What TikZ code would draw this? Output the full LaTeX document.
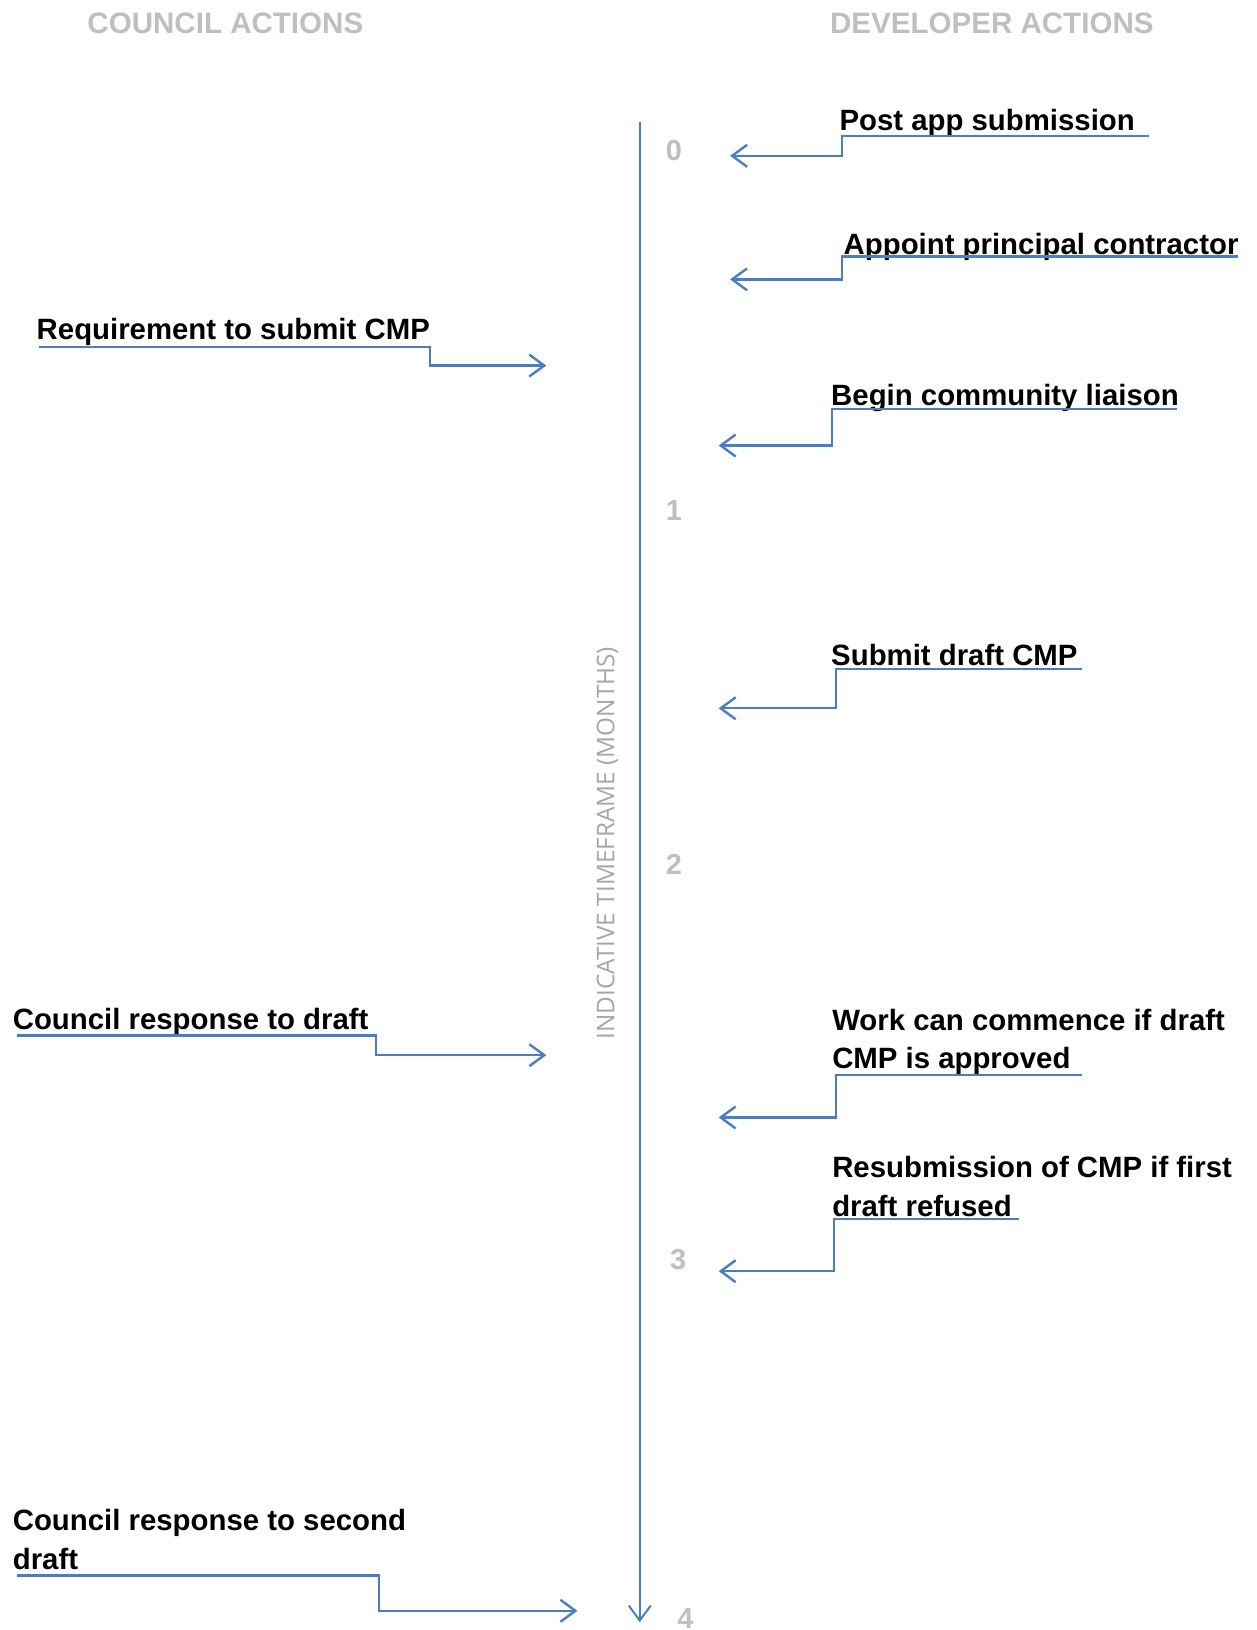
\documentclass[tikz,border=0pt]{standalone}
\usepackage{fontspec}
\setmainfont{Liberation Sans}
\newfontfamily\opensans{Open Sans}
\usetikzlibrary{arrows.meta}
\definecolor{lineblue}{RGB}{74,126,192}
\definecolor{headgray}{RGB}{191,191,191}
\definecolor{axisgray}{RGB}{166,166,166}
\begin{document}
\begin{tikzpicture}[x=0.52pt,y=-0.52pt,
  flow/.style={lineblue,line width=1.2pt,-{Straight Barb[length=7.5pt,width=11pt]}},
  head/.style={font=\fontsize{14.8}{17}\selectfont\bfseries,text=headgray},
  tick/.style={font=\fontsize{14.5}{16}\selectfont\bfseries,text=headgray},
  item/.style={font=\fontsize{14.7}{19.2}\selectfont\bfseries,anchor=base west,inner sep=0pt,align=left}]
\useasboundingbox (0,0) rectangle (1209.5,1569.5);

% Column headings
\node[head] (council) at (217,22) {COUNCIL ACTIONS};
\node[head] (developer) at (955,22) {DEVELOPER ACTIONS};

% Time axis
\coordinate (axtop) at (616,117);
\coordinate (axbot) at (616,1562);
\draw[flow,line width=1pt] (axtop) -- (axbot);
\node[rotate=90,font=\opensans\fontsize{12.2}{14}\selectfont,text=axisgray] (axlabel) at (585,812) {INDICATIVE TIMEFRAME (MONTHS)};

% Months
\node[tick] (m0) at (649,145) {0};
\node[tick] (m1) at (649,492) {1};
\node[tick] (m2) at (649,832) {2};
\node[tick] (m3) at (653,1213) {3};
\node[tick] (m4) at (660,1558) {4};

% Developer actions
\node[item] (postapp) at (808,126) {Post app submission};
\coordinate (postapp-r) at (1106,131);
\coordinate (postapp-l) at (811,131);
\coordinate (postapp-t) at (703,150);
\draw[flow] (postapp-r) -- (postapp-l) |- (postapp-t);

\node[item] (appoint) at (812,245) {Appoint principal contractor};
\coordinate (appoint-r) at (1192,247);
\coordinate (appoint-l) at (811,247);
\coordinate (appoint-t) at (703,269);
\draw[flow] (appoint-r) -- (appoint-l) |- (appoint-t);

\node[item] (liaison) at (800,390) {Begin community liaison};
\coordinate (liaison-r) at (1133,394);
\coordinate (liaison-l) at (801,394);
\coordinate (liaison-t) at (692,429);
\draw[flow] (liaison-r) -- (liaison-l) |- (liaison-t);

\node[item] (draftcmp) at (800,641) {Submit draft CMP};
\coordinate (draftcmp-r) at (1042,644);
\coordinate (draftcmp-l) at (805,644);
\coordinate (draftcmp-t) at (692,682);
\draw[flow] (draftcmp-r) -- (draftcmp-l) |- (draftcmp-t);

\node[item] (commence) at (801,1029) {Work can commence if draft\\CMP is approved};
\coordinate (commence-r) at (1042,1035);
\coordinate (commence-l) at (805,1035);
\coordinate (commence-t) at (692,1076);
\draw[flow] (commence-r) -- (commence-l) |- (commence-t);

\node[item] (resubmit) at (801,1171) {Resubmission of CMP if first\\draft refused};
\coordinate (resubmit-r) at (981,1174);
\coordinate (resubmit-l) at (803,1174);
\coordinate (resubmit-t) at (692,1224);
\draw[flow] (resubmit-r) -- (resubmit-l) |- (resubmit-t);

% Council actions
\node[item] (require) at (35,327) {Requirement to submit CMP};
\coordinate (require-l) at (38,334);
\coordinate (require-r) at (414,334);
\coordinate (require-t) at (526,352);
\draw[flow] (require-l) -- (require-r) |- (require-t);

\node[item] (response) at (12,991) {Council response to draft};
\coordinate (response-l) at (16,997);
\coordinate (response-r) at (362,997);
\coordinate (response-t) at (526,1016);
\draw[flow] (response-l) -- (response-r) |- (response-t);

\node[item] (second) at (12,1511) {Council response to second\\draft};
\coordinate (second-l) at (16,1517);
\coordinate (second-r) at (365,1517);
\coordinate (second-t) at (556,1551);
\draw[flow] (second-l) -- (second-r) |- (second-t);

\end{tikzpicture}
\end{document}
